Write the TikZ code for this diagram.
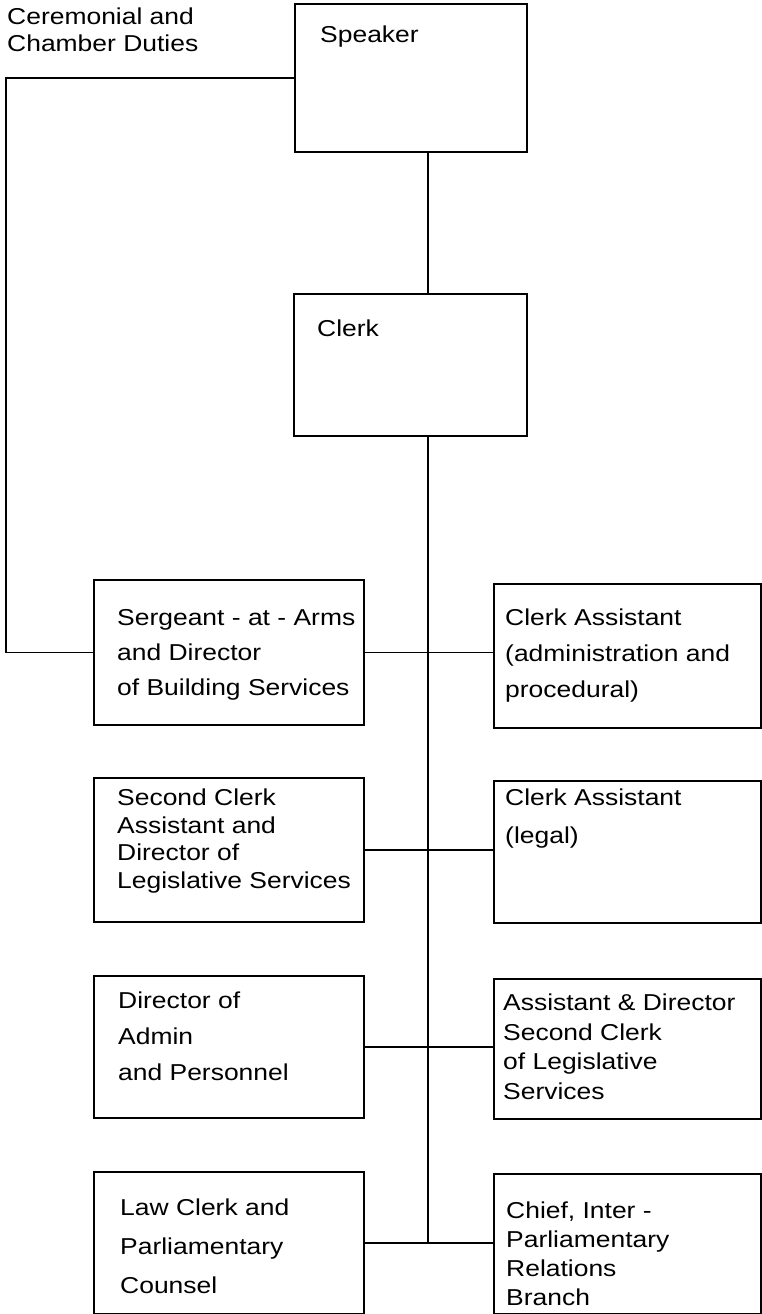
\documentclass[tikz,border=0pt]{standalone}
\usepackage{fontspec}
\setmainfont{Liberation Sans}[FakeStretch=1.15]
\begin{document}
\begin{tikzpicture}[x=1pt,y=-1pt,
  box/.style={draw, line width=1.6pt, inner sep=0pt, anchor=north west},
  lbl/.style={anchor=north west, inner sep=0pt, align=left, font=\fontsize{23}{30}\selectfont},
  wire/.style={line width=1.6pt}]
\useasboundingbox (0,0) rectangle (762,1314);
% boxes
\node[box, minimum width=232pt, minimum height=148pt] (speaker) at (294,3) {};
\node[box, minimum width=233pt, minimum height=142pt] (clerk) at (293,293) {};
\node[box, minimum width=270pt, minimum height=145pt] (r1l) at (93,579) {};
\node[box, minimum width=267pt, minimum height=144pt] (r1r) at (493,583) {};
\node[box, minimum width=270pt, minimum height=144pt] (r2l) at (93,777) {};
\node[box, minimum width=267pt, minimum height=142pt] (r2r) at (493,780) {};
\node[box, minimum width=270pt, minimum height=142pt] (r3l) at (93,975) {};
\node[box, minimum width=267pt, minimum height=140pt] (r3r) at (493,978) {};
\node[box, minimum width=270pt, minimum height=142pt] (r4l) at (93,1171) {};
\node[box, minimum width=267pt, minimum height=140pt] (r4r) at (493,1173) {};
% texts
\node[lbl, font=\fontsize{23}{27}\selectfont] (tcer) at (7,8) {Ceremonial and\\Chamber Duties};
\node[lbl] (tspeaker) at (320,26) {Speaker};
\node[lbl] (tclerk) at (317,319.5) {Clerk};
\node[lbl, font=\fontsize{23}{35}\selectfont] (t1l) at (117,609) {Sergeant - at - Arms\\and Director\\of Building Services};
\node[lbl, font=\fontsize{23}{36}\selectfont] (t1r) at (505,609) {Clerk Assistant\\(administration and\\procedural)};
\node[lbl, font=\fontsize{23}{27.5}\selectfont] (t2l) at (117,789) {Second Clerk\\Assistant and\\Director of\\Legislative Services};
\node[lbl, font=\fontsize{23}{38}\selectfont] (t2r) at (505,789) {Clerk Assistant\\(legal)};
\node[lbl, font=\fontsize{23}{36}\selectfont] (t3l) at (118,992) {Director of\\Admin\\and Personnel};
\node[lbl, font=\fontsize{23}{29.5}\selectfont] (t3r) at (503,994) {Assistant \& Director\\Second Clerk\\of Legislative\\Services};
\node[lbl, font=\fontsize{23}{39}\selectfont] (t4l) at (120,1199) {Law Clerk and\\Parliamentary\\Counsel};
\node[lbl, font=\fontsize{23}{29}\selectfont] (t4r) at (506,1202) {Chief, Inter -\\Parliamentary\\Relations\\Branch};
% connectors
\coordinate (lft) at (6,0);
\coordinate (spine) at (428,0);
\draw[wire] (speaker.west) -- (speaker.west -| lft) |- (r1l.west);
\draw[wire] (speaker.south -| spine) -- (clerk.north -| spine);
\draw[wire] (clerk.south -| spine) -- (spine |- r4l.east);
\draw[wire] (r1l.east) -- (r1l.east -| r1r.west);
\draw[wire] (r2l.east) -- (r2l.east -| r2r.west);
\draw[wire] (r3l.east) -- (r3l.east -| r3r.west);
\draw[wire] (r4l.east) -- (r4l.east -| r4r.west);
\end{tikzpicture}
\end{document}
